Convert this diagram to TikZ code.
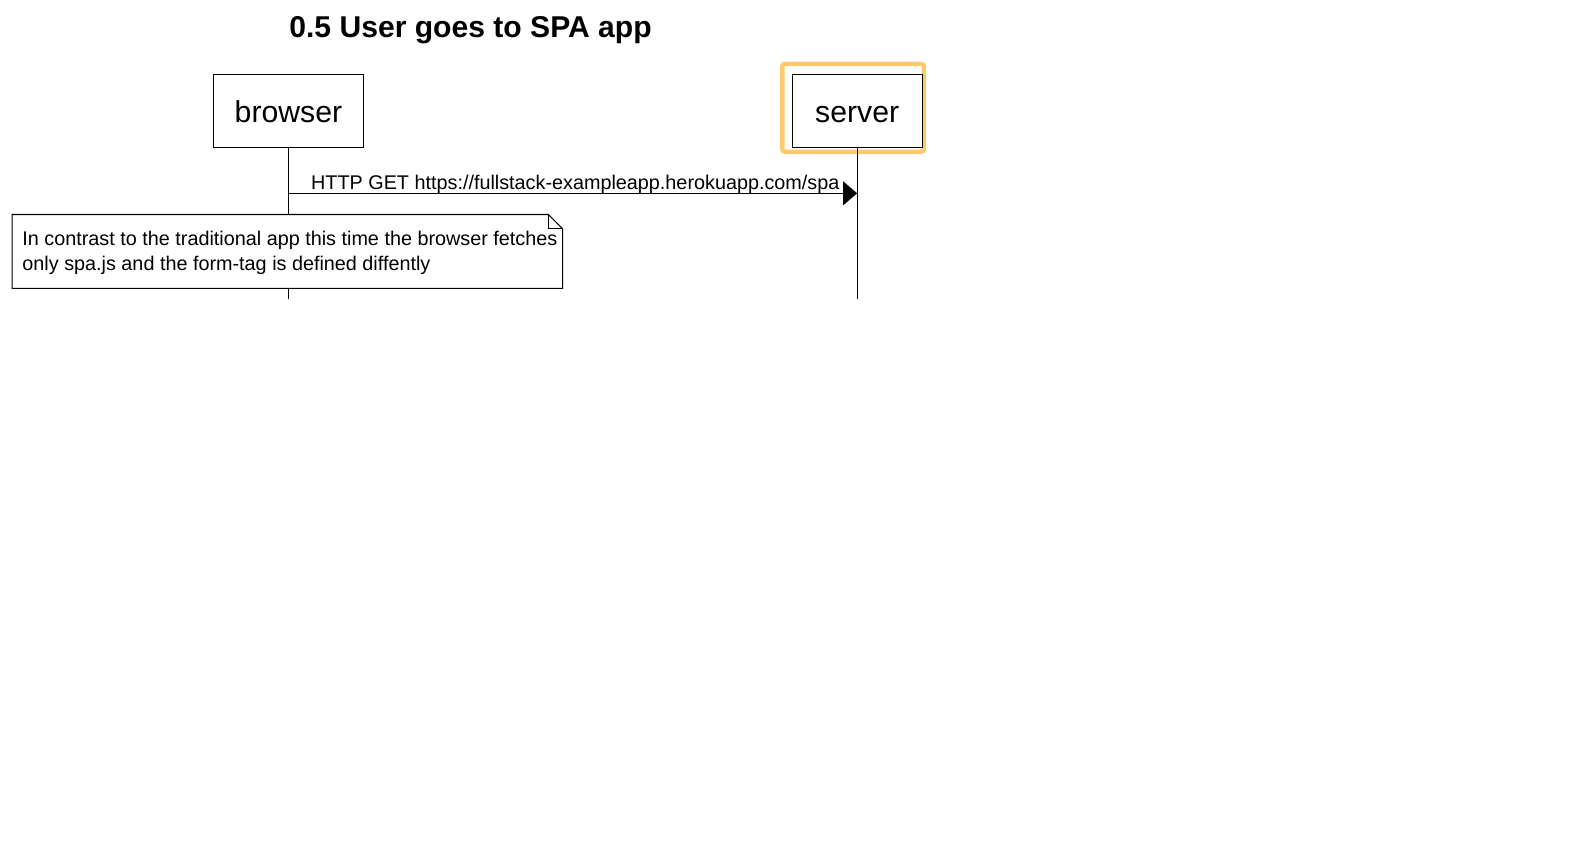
\documentclass[tikz,border=0pt]{standalone}
\usepackage{fontspec}
\setmainfont{Liberation Sans}
\begin{document}
\begin{tikzpicture}[x=1.012pt,y=-1.012pt,
  actor/.style={draw=black,line width=1.2pt,fill=white,minimum width=150pt,minimum height=73pt,inner sep=0pt,text height=21.7pt,text depth=0pt,font=\fontsize{30.2}{35}\selectfont},
  life/.style={draw=black,line width=1.1pt},
  msg/.style={font=\fontsize{19.8}{24.3}\selectfont},
  hl/.style={draw={rgb,255:red,253;green,203;blue,110},line width=4.5pt,rounded corners=3pt}
]
\useasboundingbox (0,0) rectangle (1567.2,849.8);
\node[font=\bfseries\fontsize{30.1}{35}\selectfont] (title) at (465,30) {0.5 User goes to SPA app};
% highlight
\draw[hl] (773,63) rectangle (913,150);
\node[actor] (browser) at (285,110) {browser};
\node[actor,minimum width=130pt] (server) at (847,110) {server};
\coordinate (bend) at (285,295);
\coordinate (send) at (847,295);
\draw[life] (browser.south) -- (bend);
\draw[life] (server.south) -- (send);
% message
\coordinate (m1) at (285,191);
\coordinate (m2) at (847,191);
\draw[line width=1.1pt] (m1) -- ([xshift=-10pt]m2);
\fill (m2) -- ++(-14,-12) -- ++(0,24) -- cycle;
\node[msg,anchor=base west] (lbl) at (304,187) {HTTP GET https://fullstack-exampleapp.herokuapp.com/spa};
% note
\draw[line width=1.1pt,fill=white] (12,212) -- (542,212) -- (556,226) -- (556,285) -- (12,285) -- cycle;
\draw[line width=1.1pt] (542,212) -- (542,226) -- (556,226);
\node[msg,anchor=north west,align=left,inner sep=0pt] (note) at (22,228.5) {In contrast to the traditional app this time the browser fetches\\only spa.js and the form-tag is defined diffently};
\end{tikzpicture}
\end{document}
